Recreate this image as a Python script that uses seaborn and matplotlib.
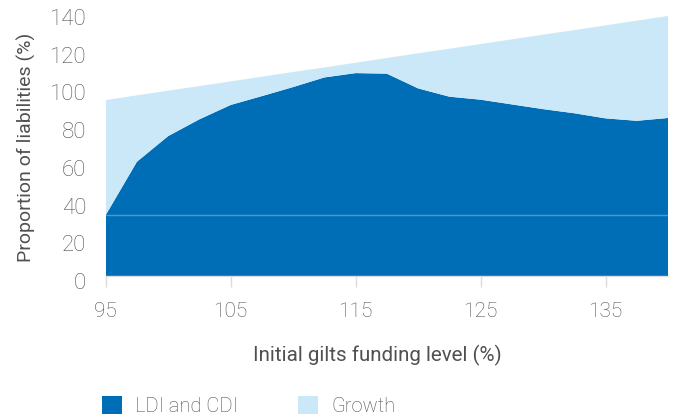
import numpy as np
import matplotlib
matplotlib.use("Agg")
import matplotlib.pyplot as plt
import matplotlib.transforms as mtransforms
from matplotlib.patches import Patch
import seaborn as sns

# ---- data ----
funding_level = [95, 97.5, 100, 102.5, 105, 107.5, 110, 112.5, 115, 117.5,
                 120, 122.5, 125, 127.5, 130, 132.5, 135, 137.5, 140]
ldi_cdi = [32.3, 60.6, 74.2, 83.1, 90.7, 95.4, 100.2, 105.3, 107.6, 107.3,
           99.5, 95.1, 93.5, 91.0, 88.5, 86.3, 83.6, 82.3, 83.8]
total = [93.3, 95.8, 98.3, 100.7, 103.2, 105.7, 108.2, 110.6, 113.1, 115.6,
         118.1, 120.5, 123.0, 125.5, 128.0, 130.4, 132.9, 135.4, 137.9]
ldi_floor = 32.3
x_ticks = [95, 105, 115, 125, 135]
y_ticks = [0, 20, 40, 60, 80, 100, 120, 140]
series_names = ["LDI and CDI", "Growth"]

DARK = "#006eb6"
LIGHT = "#cbe8f8"
TXT = "#505050"

sns.set_theme(style="white")
plt.rcParams["font.family"] = ["Roboto", "DejaVu Sans"]
plt.rcParams["font.weight"] = "light"

fig = plt.figure(figsize=(6.78, 4.19), dpi=100)
W, H = 678, 419
left, right, bottom, top = 105.7, 668.0, 276.0, 12.0
ax = fig.add_axes([left / W, (H - bottom) / H, (right - left) / W, (bottom - top) / H])

x = np.array(funding_level)
ldi = np.array(ldi_cdi)
growth = np.array(total) - ldi
ax.stackplot(x, ldi, growth, colors=[DARK, LIGHT], linewidth=0, edgecolor="none")
ax.plot(x, np.full_like(x, ldi_floor, dtype=float), color="#4a97d4", lw=1.0)

ax.set_xlim(95, 140)
ax.set_ylim(0, 140)
ax.set_xticks(x_ticks)
ax.set_yticks(y_ticks)
ax.tick_params(axis="x", length=8, width=1, color="#dcdcdc", pad=11,
               labelsize=15, labelcolor=TXT, direction="out", bottom=True)
ax.tick_params(axis="y", length=0, pad=14, labelsize=16, labelcolor=TXT)
for lab in ax.get_yticklabels():
    lab.set_transform(lab.get_transform() +
                      mtransforms.ScaledTranslation(0, -5 / 100, fig.dpi_scale_trans))

for s in ["top", "right", "left"]:
    ax.spines[s].set_visible(False)
ax.spines["bottom"].set_color("#dcdcdc")
ax.spines["bottom"].set_linewidth(1)

ax.set_xlabel("Initial gilts funding level (%)", fontsize=14.8, color=TXT)
ax.xaxis.set_label_coords((377 - left) / (right - left), (bottom - 355) / (bottom - top))
ax.xaxis.label.set_va("center")
ax.set_ylabel("Proportion of liabilities (%)", fontsize=14, color=TXT)
ax.yaxis.set_label_coords((26 - left) / (right - left), (bottom - 147) / (bottom - top))
ax.yaxis.label.set_va("center")

handles = [Patch(facecolor=DARK, edgecolor="none"), Patch(facecolor=LIGHT, edgecolor="none")]
fig.legend(handles, series_names, loc="lower left",
           bbox_to_anchor=(101.7 / W, (H - 416) / H), ncol=2, frameon=False,
           fontsize=14.5, labelcolor=TXT, handlelength=1.0, handleheight=1.0,
           handletextpad=0.65, columnspacing=3.0, borderpad=0, borderaxespad=0)

fig.savefig("out.png", dpi=100)
